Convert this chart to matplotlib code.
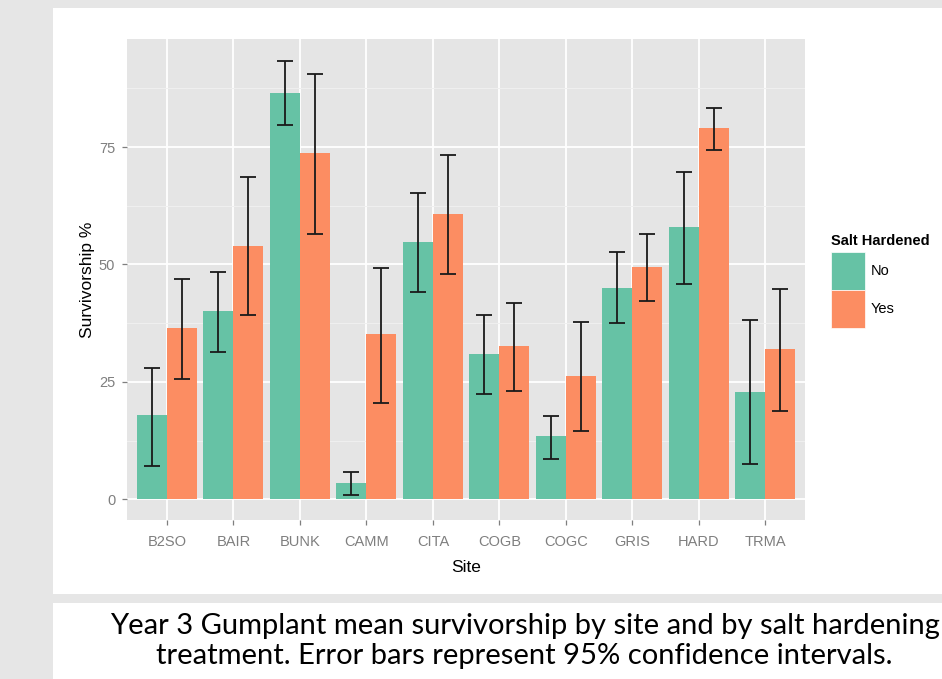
import matplotlib
matplotlib.use('Agg')
import matplotlib.pyplot as plt
from matplotlib.patches import Rectangle, Patch
from matplotlib.ticker import MultipleLocator
import numpy as np

plt.rcParams['font.family'] = ['Liberation Sans', 'DejaVu Sans']

# Year 3 gumplant survivorship, mean and 95% CI per site and treatment
sites = ['B2SO', 'BAIR', 'BUNK', 'CAMM', 'CITA', 'COGB', 'COGC', 'GRIS', 'HARD', 'TRMA']
no_mean = [17.9, 40.0, 86.5, 3.5, 54.7, 30.9, 13.4, 44.9, 57.9, 22.8]
no_low = [7.2, 31.4, 79.6, 0.9, 44.1, 22.4, 8.6, 37.5, 45.8, 7.6]
no_high = [27.9, 48.3, 93.3, 5.8, 65.2, 39.2, 17.7, 52.6, 69.7, 38.1]
yes_mean = [36.5, 54.0, 73.7, 35.1, 60.8, 32.6, 26.3, 49.5, 79.0, 31.9]
yes_low = [25.6, 39.2, 56.4, 20.6, 47.9, 23.1, 14.6, 42.3, 74.3, 18.8]
yes_high = [46.9, 68.7, 90.5, 49.3, 73.3, 41.9, 37.8, 56.4, 83.4, 44.8]

caption = ('Year 3 Gumplant mean survivorship by site and by salt hardening\n'
           'treatment. Error bars represent 95% confidence intervals.')

W, H = 942, 679
fig = plt.figure(figsize=(W / 100, H / 100), dpi=100, facecolor='#e6e6e6')

# white boxes behind chart and caption
fig.patches.append(Rectangle((53 / W, 1 - 594 / H), 1 - 53 / W, (594 - 8) / H,
                             transform=fig.transFigure, facecolor='white', edgecolor='none', zorder=-5))
fig.patches.append(Rectangle((53 / W, 0), 1 - 53 / W, (679 - 603) / H,
                             transform=fig.transFigure, facecolor='white', edgecolor='none', zorder=-5))

ax = fig.add_axes([127 / W, 1 - 520 / H, (805.3 - 127) / W, (520 - 39) / H])
ax.set_facecolor('#e5e5e5')

x = np.arange(1, len(sites) + 1)
no_mean = np.array(no_mean)
yes_mean = np.array(yes_mean)
w = 0.45
ax.bar(x - w / 2, no_mean, width=w, color='#66c2a5', zorder=2)
ax.bar(x + w / 2, yes_mean, width=w, color='#fc8d62', zorder=2)
ax.errorbar(x - w / 2, no_mean, yerr=[no_mean - np.array(no_low), np.array(no_high) - no_mean],
            fmt='none', ecolor='#1a1a1a', elinewidth=1.3, capsize=5.8, capthick=1.3, zorder=3)
ax.errorbar(x + w / 2, yes_mean, yerr=[yes_mean - np.array(yes_low), np.array(yes_high) - yes_mean],
            fmt='none', ecolor='#1a1a1a', elinewidth=1.3, capsize=5.8, capthick=1.3, zorder=3)

ax.set_xlim(0.4, 10.6)
ax.set_ylim(-4.4, 98)
ax.set_xticks(x)
ax.set_xticklabels(sites)
ax.yaxis.set_major_locator(MultipleLocator(25))
ax.yaxis.set_minor_locator(MultipleLocator(12.5))
ax.grid(which='major', color='white', linewidth=1.3, zorder=1)
ax.grid(which='minor', axis='y', color='#f0f0f0', linewidth=0.7, zorder=1)
ax.set_axisbelow(True)
for s in ax.spines.values():
    s.set_visible(False)
ax.tick_params(which='major', colors='#7f7f7f', labelcolor='#7f7f7f', length=3.5, width=0.9,
               labelsize=10.5, pad=5)
ax.tick_params(axis='x', pad=7)
ax.tick_params(which='minor', length=0)

ax.set_xlabel('Site', fontsize=12.5, color='black', labelpad=8)
ax.set_ylabel('Survivorship %', fontsize=12.5, color='black', labelpad=3)

handles = [Patch(facecolor='#66c2a5', edgecolor='white', linewidth=0.5, label='No'),
           Patch(facecolor='#fc8d62', edgecolor='white', linewidth=0.5, label='Yes')]
leg = fig.legend(handles=handles, loc='upper left', bbox_to_anchor=(828 / W, 1 - 231 / H),
                 title='Salt Hardened', title_fontproperties={'weight': 'bold', 'size': 10.5},
                 fontsize=10.5, frameon=False, handlelength=2.35, handleheight=3.65,
                 labelspacing=0.0, handletextpad=0.4, borderpad=0.2, borderaxespad=0,
                 alignment='left')
leg._legend_box.sep = 3

fig.text(0.557, 1 - 641 / H, caption, ha='center', va='center', fontsize=21,
         family='Lato', linespacing=1.16)

fig.savefig('out.png', dpi=100, facecolor=fig.get_facecolor())
